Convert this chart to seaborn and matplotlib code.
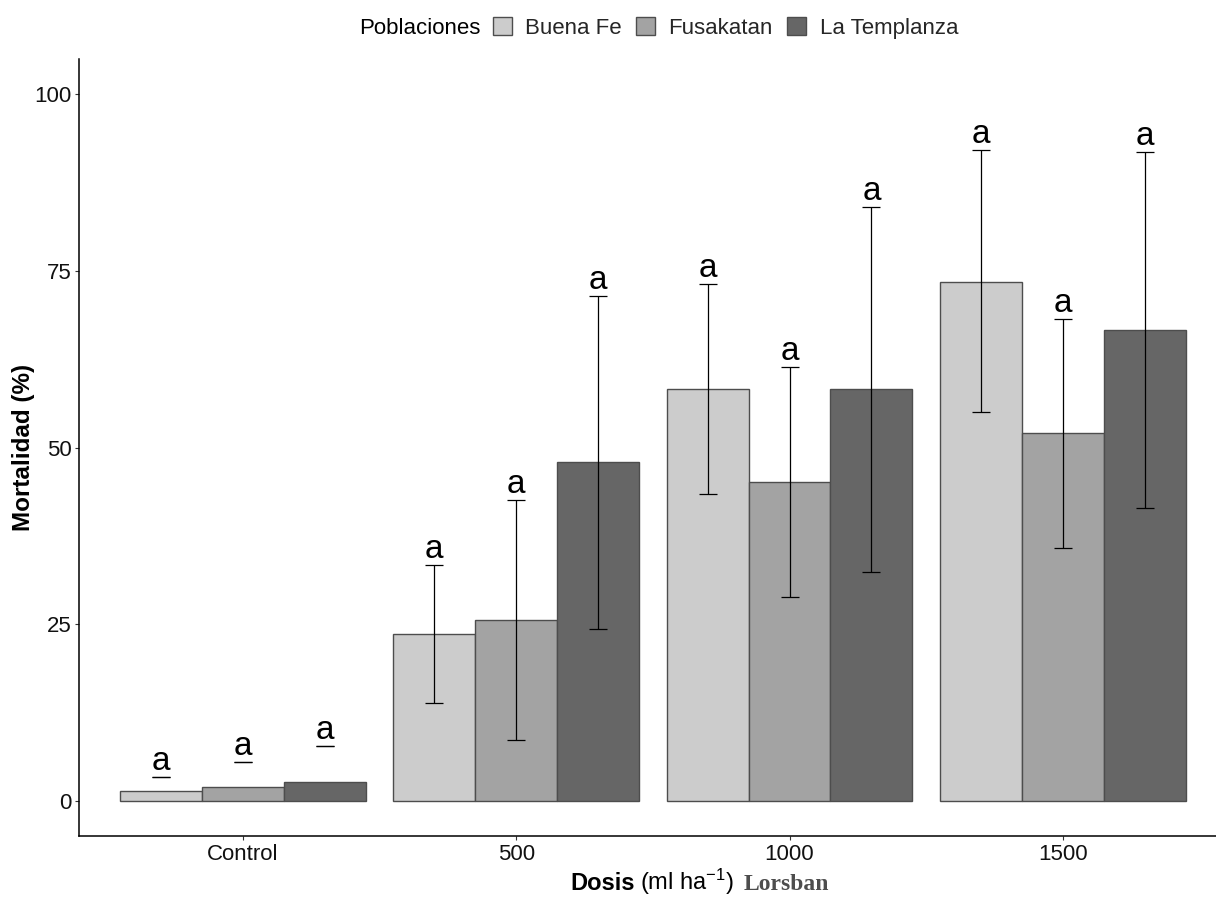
import matplotlib
matplotlib.use("Agg")
import numpy as np
import pandas as pd
import seaborn as sns
import matplotlib.pyplot as plt
from matplotlib.patches import Patch

# ---- data -------------------------------------------------------------
dosis = ["Control", "500", "1000", "1500"]
poblaciones = ["Buena Fe", "Fusakatan", "La Templanza"]

# mean mortality (%) per population, in dose order
buena_fe = [1.3, 23.6, 58.3, 73.5]
fusakatan = [2.0, 25.6, 45.1, 52.1]
la_templanza = [2.6, 47.9, 58.3, 66.7]

# lower / upper limits of the error bars
buena_fe_low = [3.4, 13.8, 43.4, 55.0]
buena_fe_high = [3.4, 33.3, 73.2, 92.1]
fusakatan_low = [5.5, 8.6, 28.8, 35.8]
fusakatan_high = [5.5, 42.6, 61.4, 68.2]
la_templanza_low = [7.8, 24.3, 32.4, 41.5]
la_templanza_high = [7.8, 71.4, 84.1, 91.8]

# significance letters
letras_buena_fe = ["a", "a", "a", "a"]
letras_fusakatan = ["a", "a", "a", "a"]
letras_la_templanza = ["a", "a", "a", "a"]

colores = ["#cccccc", "#a3a3a3", "#666666"]

means = [buena_fe, fusakatan, la_templanza]
lows = [buena_fe_low, fusakatan_low, la_templanza_low]
highs = [buena_fe_high, fusakatan_high, la_templanza_high]
letras = [letras_buena_fe, letras_fusakatan, letras_la_templanza]

rows = []
for p, vals, lo, hi, le in zip(poblaciones, means, lows, highs, letras):
    for d, v, l, h, t in zip(dosis, vals, lo, hi, le):
        rows.append({"Dosis": d, "Mortalidad": v, "Poblacion": p,
                     "low": l, "high": h, "letra": t})
df = pd.DataFrame(rows)

# ---- style ------------------------------------------------------------
sns.set_theme(style="white")
plt.rcParams["font.family"] = ["Liberation Sans", "DejaVu Sans"]
plt.rcParams["mathtext.fontset"] = "custom"
plt.rcParams["mathtext.rm"] = "Liberation Sans"
plt.rcParams["mathtext.it"] = "Liberation Sans:italic"
plt.rcParams["mathtext.bf"] = "Liberation Sans:bold"

W, H = 1216, 899
fig = plt.figure(figsize=(W / 100, H / 100), dpi=100)
ax = fig.add_axes([79 / W, 1 - 836 / H, (W - 79) / W, (836 - 59) / H])

edge = "#4d4d4d"
sns.barplot(data=df, x="Dosis", y="Mortalidad", hue="Poblacion",
            order=dosis, hue_order=poblaciones, palette=colores,
            width=0.9, gap=0, saturation=1, errorbar=None,
            edgecolor=edge, linewidth=1.0, legend=False, ax=ax)

# error bars and letters on top of each bar
for container, p in zip(ax.containers, poblaciones):
    sub = df[df["Poblacion"] == p].set_index("Dosis")
    for bar in container:
        cx = bar.get_x() + bar.get_width() / 2
        d = dosis[int(round(cx))]
        lo, hi = sub.loc[d, "low"], sub.loc[d, "high"]
        ax.errorbar(cx, (lo + hi) / 2, yerr=(hi - lo) / 2, fmt="none",
                    ecolor="black", elinewidth=0.9, capsize=6.5,
                    capthick=0.9, zorder=3)
        ax.text(cx, hi, sub.loc[d, "letra"], ha="center", va="bottom",
                fontsize=24, color="black", zorder=4)

# ---- axes -------------------------------------------------------------
ax.set_xlim(-0.6, 3 + (W - 1062.7) / 273.4)
ax.set_ylim(-5, 105)
ax.set_yticks([0, 25, 50, 75, 100])
ax.set_xlabel("")
ax.set_ylabel("Mortalidad (%)", fontsize=17.5, fontweight="bold",
              color="black")
ax.yaxis.set_label_coords((35 - 79) / (W - 79), 0.5)

for s in ["top", "right"]:
    ax.spines[s].set_visible(False)
for s in ["left", "bottom"]:
    ax.spines[s].set_color("black")
    ax.spines[s].set_linewidth(1.1)
ax.tick_params(axis="both", length=3, width=0.8, color="#333333",
               labelsize=16, labelcolor="#111111", pad=2.5,
               bottom=True, left=True)

# ---- legend -----------------------------------------------------------
handles = [Patch(facecolor=c, edgecolor=edge, linewidth=1.0) for c in colores]
fig.legend(handles, poblaciones, ncol=3, loc="center left",
           bbox_to_anchor=(493 / W, 1 - 28 / H), frameon=False,
           fontsize=16, handlelength=0.85, handleheight=0.85,
           handletextpad=0.6, columnspacing=0.65, borderpad=0,
           borderaxespad=0)
fig.text(481 / W, 1 - 28 / H, "Poblaciones", ha="right", va="center",
         fontsize=16, color="black")

# ---- x axis title built from pieces with different fonts --------------
renderer = fig.canvas.get_renderer()
pieces = [
    ("Dosis", dict(fontweight="bold", color="black"), 6),
    ("(ml ha$^{-1}$)", dict(color="black"), 9),
    ("Lorsban", dict(family=["Liberation Serif", "DejaVu Serif"],
                     fontweight="bold", color="#4d4d4d"), 0),
]
x_px = 570
for txt, kw, gap in pieces:
    t = fig.text(x_px / W, 1 - 890 / H, txt, ha="left", va="baseline",
                 fontsize=17, **kw)
    bb = t.get_window_extent(renderer)
    x_px = bb.x1 + gap

fig.savefig("out.png", dpi=100)
